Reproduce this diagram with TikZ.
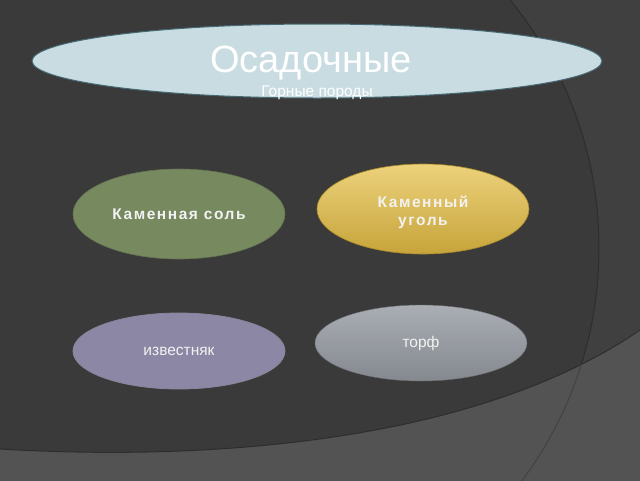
\documentclass[tikz,border=0pt]{standalone}
\usepackage{fontspec}
\setmainfont{Liberation Sans}
\newfontfamily\spacedfont[LetterSpace=10]{Liberation Sans}
\usetikzlibrary{shapes.geometric}
\definecolor{slidebg}{HTML}{3A3A3A}
\definecolor{slidecorner}{HTML}{404040}
\definecolor{slideband}{HTML}{535353}
\definecolor{slideline}{HTML}{2D2D2D}
\definecolor{titlefill}{HTML}{C8DCE2}
\definecolor{titleedge}{HTML}{466973}
\definecolor{saltgreen}{HTML}{76895F}
\definecolor{coaltop}{HTML}{EDD27C}
\definecolor{coalbottom}{HTML}{C6A43A}
\definecolor{coaledge}{HTML}{A88A2A}
\definecolor{limepurple}{HTML}{8C87A5}
\definecolor{peattop}{HTML}{AAAEB4}
\definecolor{peatbottom}{HTML}{84888F}
\newcommand{\rockFont}[0]{\fontsize{15.5}{18}\selectfont}

\begin{document}
\begin{tikzpicture}[x=1pt, y=-1pt]
  \tikzset{rock/.style={ellipse, minimum width=212pt, inner sep=0pt,
                        align=center, text=white!95!black},
           spaced/.style={font=\spacedfont\bfseries\rockFont}}
  \useasboundingbox (0,0) rectangle (640,480);
  \clip (0,0) rectangle (640,480);
  % background
  \fill[slidecorner] (-10,-10) rectangle (650,490);
  \fill[slidebg] (209,248) circle[radius=390pt];
  \draw[slideline, line width=1pt] (209,248) circle[radius=390pt];
  \fill[slideband] (-10,449) -- (0,449) .. controls (220,462) and (480,440) .. (640,330)
    -- (650,325) -- (650,490) -- (-10,490) -- cycle;
  \draw[slideline, line width=1pt] (-10,449) -- (0,449) .. controls (220,462) and (480,440) .. (640,330) -- (650,325);
  \begin{scope}
    \clip (0,449) .. controls (220,462) and (480,440) .. (640,330)
      -- (650,325) -- (650,490) -- (-10,490) -- (-10,449) -- cycle;
    \draw[slideband!80!black, line width=1pt] (209,248) circle[radius=390pt];
  \end{scope}
  % title
  \node[ellipse, minimum width=570pt, minimum height=74pt, fill=titlefill,
        draw=titleedge, line width=1pt] (title) at (317,61) {};
  \node[anchor=base, text=white, font=\fontsize{38}{40}\selectfont] (sedim) at (311,72) {Осадочные};
  \node[anchor=base, text=white, font=\fontsize{15.5}{17}\selectfont] (rocks) at (317,96) {Горные породы};
  % rock kinds
  \node[rock, spaced, minimum height=90pt, fill=saltgreen, draw=saltgreen!85!black,
        line width=0.6pt] (salt) at (179,214) {Каменная соль};
  \node[rock, minimum height=90pt, top color=coaltop,
        bottom color=coalbottom, draw=coaledge, line width=0.6pt] (coal) at (423,209) {};
  \node[spaced, align=center, text=white!95!black] (coaltext) at (423,212) {Каменный\\уголь};
  \node[rock, font=\rockFont, minimum height=76pt, fill=limepurple,
        draw=limepurple!70!gray, line width=0.8pt] (limestone) at (179,351) {известняк};
  \node[rock, font=\rockFont, minimum height=76pt, top color=peattop,
        bottom color=peatbottom, draw=peatbottom!80!black, line width=0.4pt]
        (peat) at (421,343) {торф};
\end{tikzpicture}
\end{document}
